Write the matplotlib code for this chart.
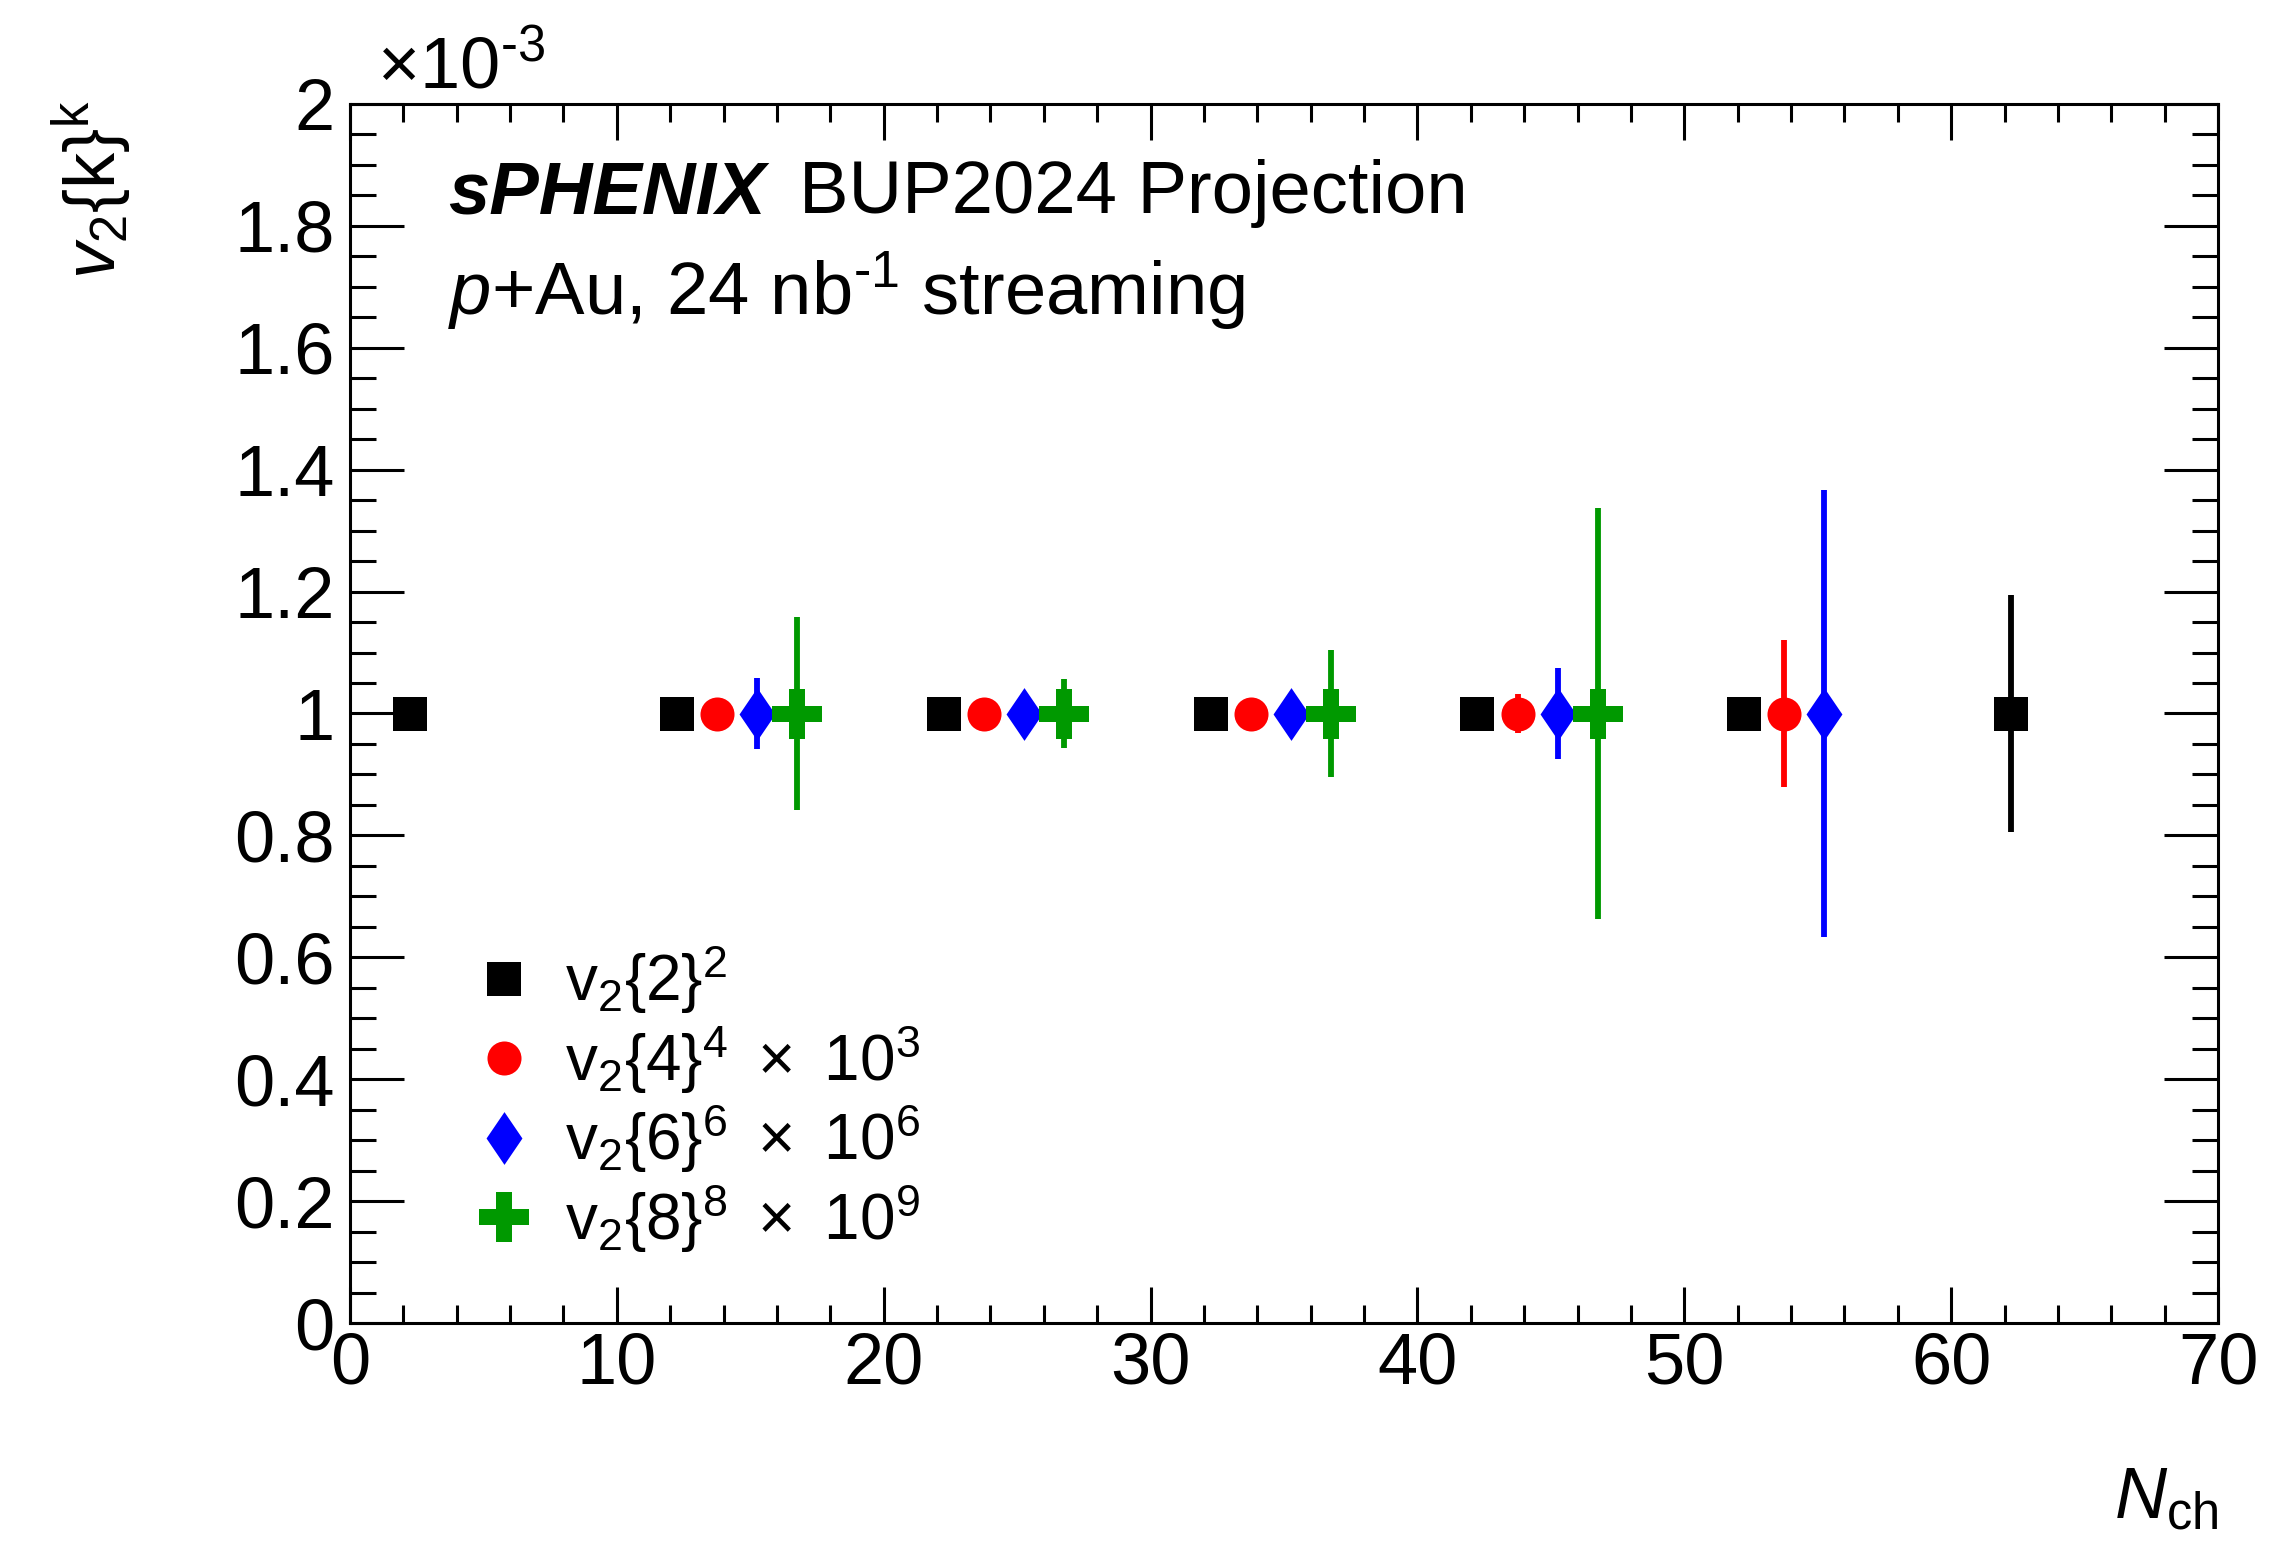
import matplotlib
matplotlib.use("Agg")
import matplotlib.pyplot as plt
from matplotlib.path import Path
from matplotlib.ticker import MultipleLocator, FormatStrFormatter

plt.rcParams["font.family"] = ["Liberation Sans", "DejaVu Sans"]
plt.rcParams["mathtext.fontset"] = "custom"
plt.rcParams["mathtext.rm"] = "Liberation Sans"
plt.rcParams["mathtext.it"] = "Liberation Sans:italic"
plt.rcParams["mathtext.bf"] = "Liberation Sans:bold"
plt.rcParams["mathtext.default"] = "regular"

# values in units of 10^-3
nch_2 = [2.25, 12.25, 22.25, 32.25, 42.25, 52.25, 62.25]
v22 = [1.0, 1.0, 1.0, 1.0, 1.0, 1.0, 1.0]
v22_err = [0.003, 0.004, 0.005, 0.007, 0.01, 0.02, 0.195]

nch_4 = [13.75, 23.75, 33.75, 43.75, 53.75]
v24 = [1.0, 1.0, 1.0, 1.0, 1.0]
v24_err = [0.006, 0.01, 0.018, 0.032, 0.121]

nch_6 = [15.25, 25.25, 35.25, 45.25, 55.25]
v26 = [1.0, 1.0, 1.0, 1.0, 1.0]
v26_err = [0.058, 0.02, 0.03, 0.074, 0.366]

nch_8 = [16.75, 26.75, 36.75, 46.75]
v28 = [1.0, 1.0, 1.0, 1.0]
v28_err = [0.158, 0.057, 0.104, 0.337]

labels = [
    r"$v_{2}\{2\}^{2}$",
    r"$v_{2}\{4\}^{4}\ \times\ 10^{3}$",
    r"$v_{2}\{6\}^{6}\ \times\ 10^{6}$",
    r"$v_{2}\{8\}^{8}\ \times\ 10^{9}$",
]

W, H = 2269, 1544
fig = plt.figure(figsize=(W / 100, H / 100), dpi=100)
ax = fig.add_axes([350 / W, 1 - 1323 / H, (2218 - 350) / W, (1323 - 104) / H])

diamond = Path([(0, 1), (0.68, 0), (0, -1), (-0.68, 0), (0, 1)],
               [Path.MOVETO, Path.LINETO, Path.LINETO, Path.LINETO, Path.CLOSEPOLY])
a, t = 24.5, 8
cross_pts = [(-t, a), (t, a), (t, t), (a, t), (a, -t), (t, -t), (t, -a), (-t, -a),
             (-t, -t), (-a, -t), (-a, t), (-t, t), (-t, a)]
cross = Path(cross_pts, [Path.MOVETO] + [Path.LINETO] * 11 + [Path.CLOSEPOLY])

series = [
    (nch_2, v22, v22_err, "black", "s", 23.8),
    (nch_4, v24, v24_err, "#ff0000", "o", 24.5),
    (nch_6, v26, v26_err, "#0000ff", diamond, 38),
    (nch_8, v28, v28_err, "#009900", cross, 35.3),
]

handles = []
for x, y, err, col, mk, ms in series:
    ax.errorbar(x, y, yerr=err, fmt="none", ecolor=col, elinewidth=4.2, capsize=0)
    ln, = ax.plot(x, y, linestyle="none", marker=mk, markersize=ms,
                  color=col, markeredgewidth=0)
    handles.append(ln)

ax.set_xlim(0, 70)
ax.set_ylim(0, 2)
ax.xaxis.set_major_locator(MultipleLocator(10))
ax.xaxis.set_minor_locator(MultipleLocator(2))
ax.yaxis.set_major_locator(MultipleLocator(0.2))
ax.yaxis.set_minor_locator(MultipleLocator(0.05))
ax.yaxis.set_major_formatter(FormatStrFormatter("%g"))

for s in ax.spines.values():
    s.set_linewidth(2.2)
ax.tick_params(which="both", direction="in", top=True, right=True, width=2.2,
               labelsize=52)
ax.tick_params(axis="x", which="major", length=26, pad=6)
ax.tick_params(axis="x", which="minor", length=13)
ax.tick_params(axis="y", which="major", length=39, pad=11)
ax.tick_params(axis="y", which="minor", length=19)

fig.text(377 / W, 1 - 88 / H, r"×10$^{\text{-}3}$", fontsize=52, va="baseline")

fig.text(135 / W, 1 - 100 / H, r"$\mathit{v}_{2}\{k\}^{k}$", fontsize=52,
         rotation=90, ha="right", va="top")
fig.text(2218 / W, 1 - 1518 / H, r"$\mathit{N}_{ch}$", fontsize=52,
         ha="right", va="baseline")

t1 = fig.text(448 / W, 1 - 213 / H, "sPHENIX", fontsize=53.5, weight="bold",
              style="italic", va="baseline")
ax.annotate("BUP2024 Projection", xy=(1, 0), xycoords=t1, xytext=(24, 0),
            textcoords="offset points", fontsize=53.5, va="bottom", ha="left")
fig.text(448 / W, 1 - 315 / H, r"$\mathit{p}$+Au, 24 nb$^{\text{-}1}$ streaming",
         fontsize=53.5, va="baseline")

ax.legend(handles, labels, loc="center left", frameon=False, fontsize=46,
          bbox_to_anchor=(472 / W, 1 - 1099 / H), bbox_transform=fig.transFigure,
          handlelength=1.0, handletextpad=0.45, borderpad=0, borderaxespad=0,
          labelspacing=0.1)

fig.savefig("out.png", dpi=100)
